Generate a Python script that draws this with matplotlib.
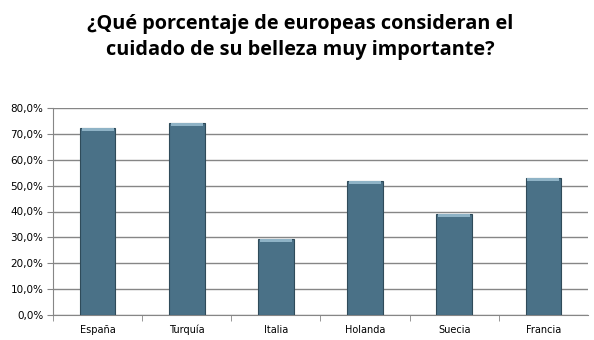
import matplotlib.pyplot as plt
from matplotlib.ticker import MultipleLocator, FuncFormatter

paises = ['España', 'Turquía', 'Italia', 'Holanda', 'Suecia', 'Francia']
valores = [72.3, 74.2, 29.5, 51.7, 39.2, 52.8]

fig = plt.figure(figsize=(5.94, 3.4), dpi=100)
ax = fig.add_axes([53 / 594, 25 / 340, 535 / 594, 207 / 340])

x = list(range(len(paises)))
ax.bar(x, valores, width=0.4, color='#4a7187', edgecolor='#2f4b5a', lw=0.8, zorder=3)
# light bevel at the top of each bar
ax.bar(x, [1.2] * len(valores), bottom=[v - 1.2 for v in valores], width=0.36,
       color='#8fb3c6', lw=0, zorder=4)

ax.set_xlim(-0.5, len(paises) - 0.5)
ax.set_ylim(0, 80)
ax.yaxis.set_major_locator(MultipleLocator(10))
ax.yaxis.set_major_formatter(FuncFormatter(lambda v, p: ('%.1f%%' % v).replace('.', ',')))
ax.grid(axis='y', color='#868686', lw=1, zorder=0)

ax.set_xticks(x)
ax.set_xticklabels(paises)
ax.set_xticks([i + 0.5 for i in x[:-1]] + [-0.5], minor=True)
ax.tick_params(axis='x', which='major', length=0, pad=7, labelsize=7)
ax.tick_params(axis='x', which='minor', length=4, color='#868686', direction='out')
ax.tick_params(axis='y', length=4, color='#868686', labelsize=7.5, pad=3)

for s in ['top', 'right']:
    ax.spines[s].set_visible(False)
ax.spines['left'].set_color('#868686')
ax.spines['bottom'].set_color('#868686')

fig.text(0.505, 0.892, '¿Qué porcentaje de europeas consideran el\ncuidado de su belleza muy importante?',
         ha='center', va='center', fontsize=14.3, fontweight='bold', family='Open Sans',
         linespacing=1.4)

fig.savefig('out.png', dpi=100)
